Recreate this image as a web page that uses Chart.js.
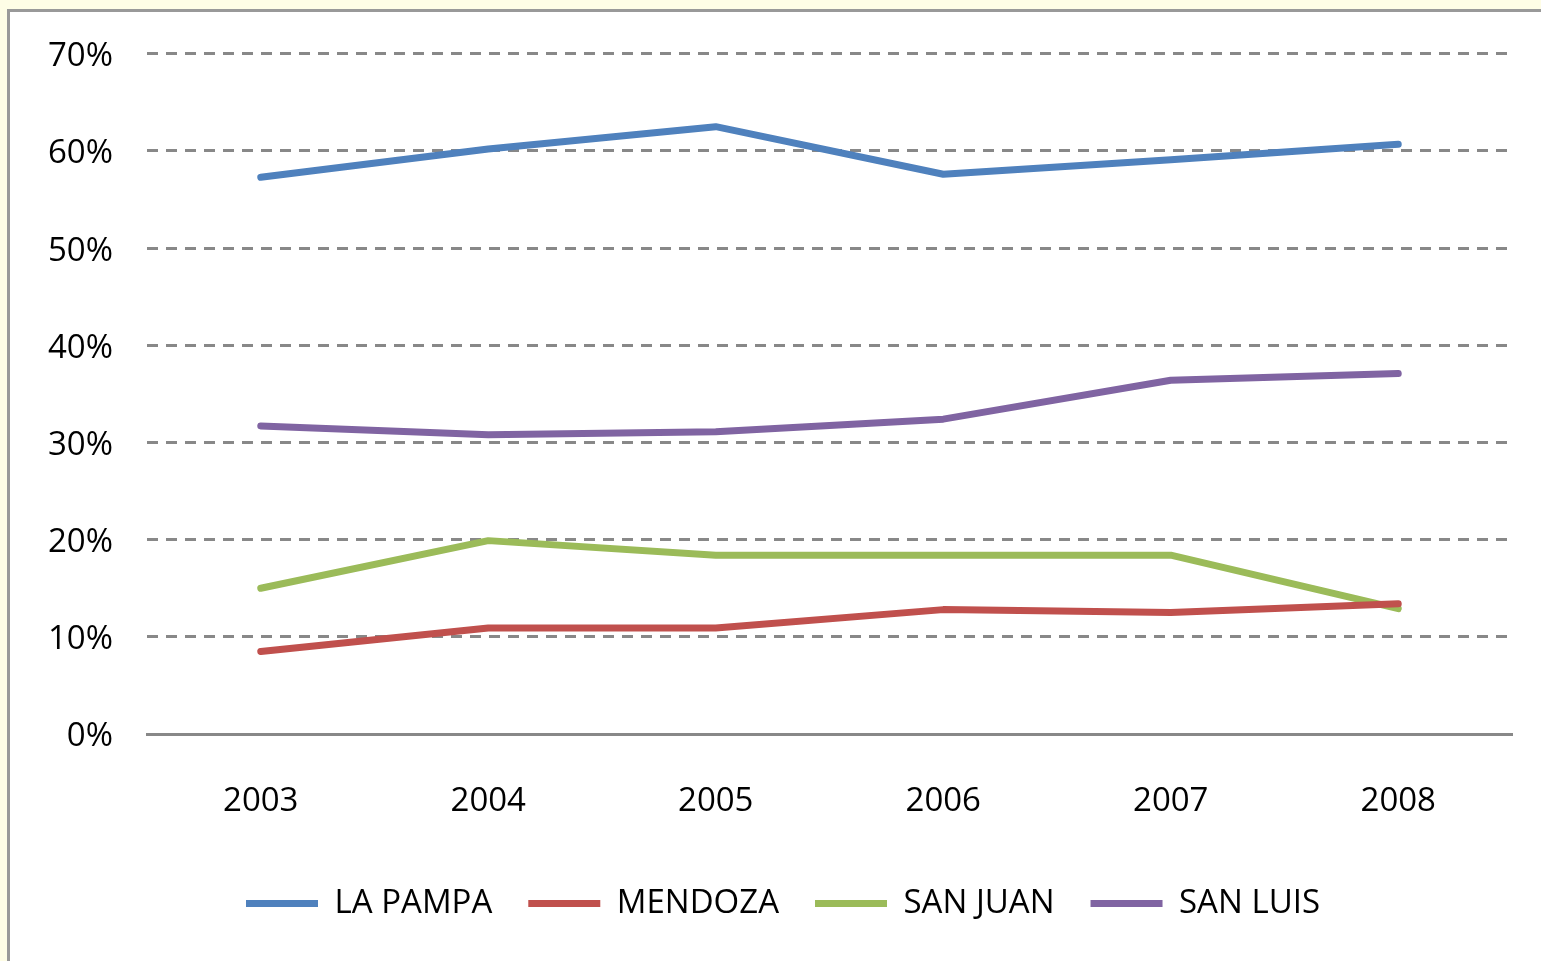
<!DOCTYPE html>
<html>
<head>
<meta charset="utf-8">
<script src="https://cdn.jsdelivr.net/npm/chart.js@4/dist/chart.umd.min.js"></script>
<style>
  html, body { margin: 0; padding: 0; width: 1541px; height: 961px; overflow: hidden; background: #fefde6; }
  #frame { position: absolute; left: 7px; top: 9px; width: 1600px; height: 1000px; background: #ffffff; border: 3px solid #999999; box-sizing: border-box; }
  #wrap { position: absolute; left: 0; top: 0; width: 1541px; height: 961px; }
</style>
</head>
<body>
<div id="frame"></div>
<div id="wrap"><canvas id="c" width="1541" height="961"></canvas></div>
<script>
const years = ['2003', '2004', '2005', '2006', '2007', '2008'];
const laPampa = [57.3, 60.2, 62.5, 57.6, 59.1, 60.7];
const mendoza = [8.5, 10.9, 10.9, 12.8, 12.5, 13.4];
const sanJuan = [15.0, 19.9, 18.4, 18.4, 18.4, 12.9];
const sanLuis = [31.7, 30.8, 31.1, 32.4, 36.4, 37.1];
const seriesNames = ['LA PAMPA', 'MENDOZA', 'SAN JUAN', 'SAN LUIS'];
const yTicks = [0, 10, 20, 30, 40, 50, 60, 70];

const colors = ['#4F81BD', '#C0504D', '#9BBB59', '#8064A2'];
const FONT = "'Open Sans', 'Liberation Sans', sans-serif";

function ds(label, data, color) {
  return {
    label, data,
    borderColor: color, backgroundColor: color,
    borderWidth: 7, pointRadius: 0, pointHoverRadius: 0,
    tension: 0, borderCapStyle: 'round', borderJoinStyle: 'round',
    pointStyle: 'line'
  };
}

const shiftLegend = {
  id: 'shiftLegend',
  beforeDraw(chart) {
    const l = chart.legend;
    if (l) { l.left = 52; l.right = 1514; }
  }
};

new Chart(document.getElementById('c'), {
  type: 'line',
  data: {
    labels: years,
    datasets: [
      ds(seriesNames[0], laPampa, colors[0]),
      ds(seriesNames[1], mendoza, colors[1]),
      ds(seriesNames[2], sanJuan, colors[2]),
      ds(seriesNames[3], sanLuis, colors[3])
    ]
  },
  plugins: [shiftLegend],
  options: {
    responsive: false,
    animation: false,
    layout: { padding: { left: 20, right: 29, top: 51, bottom: 31 } },
    plugins: {
      tooltip: { enabled: false },
      legend: {
        position: 'bottom',
        labels: {
          usePointStyle: true,
          pointStyleWidth: 72,
          boxHeight: 6,
          padding: 36,
          color: '#000000',
          font: { family: FONT, size: 33 }
        }
      }
    },
    scales: {
      x: {
        offset: true,
        grid: { display: false, drawTicks: false },
        border: { display: true, color: '#888888', width: 3 },
        ticks: { color: '#000000', padding: 48, font: { family: FONT, size: 33 }, maxRotation: 0 },
        afterFit: (s) => { s.height = 117; }
      },
      y: {
        min: 0, max: 70,
        afterBuildTicks: (s) => { s.ticks = yTicks.map(v => ({ value: v })); },
        grid: {
          drawTicks: false,
          color: (ctx) => ctx.tick && ctx.tick.value === 0 ? 'rgba(0,0,0,0)' : '#888888',
          lineWidth: 3
        },
        border: { display: false, dash: [11, 8] },
        ticks: {
          color: '#000000', padding: 34, labelOffset: 3,
          font: { family: FONT, size: 33 },
          callback: (v) => v + '%'
        },
        afterFit: (s) => { s.width = 127; }
      }
    }
  }
});
</script>
</body>
</html>
